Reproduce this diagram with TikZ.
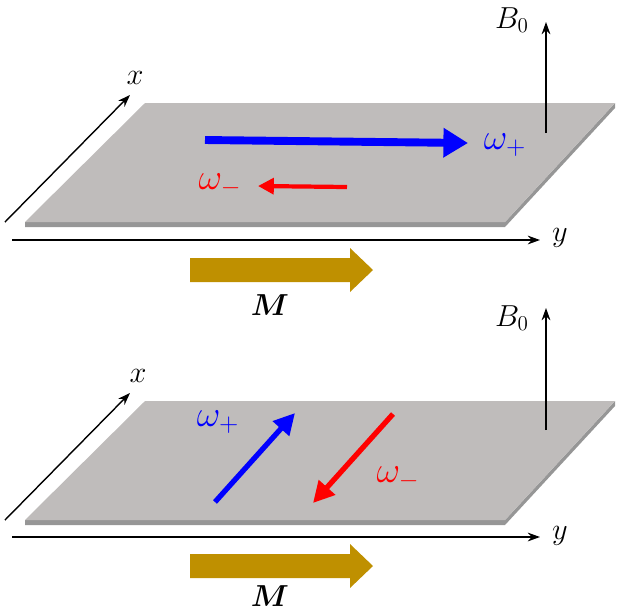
\documentclass[tikz,border=0pt]{standalone}
\usepackage{amsmath,amssymb,bm}
\usepackage{tikz}
\usetikzlibrary{arrows.meta,positioning}

\definecolor{slabtop}{RGB}{191,188,187}
\definecolor{slabedge}{RGB}{150,150,150}
\definecolor{magbrown}{RGB}{191,144,0}

\begin{document}
\begin{tikzpicture}[
    x=0.02cm, y=-0.02cm,
    axis/.style={thick,-{Stealth[length=7pt,width=5pt]}},
    fatarrow/.style={line width=4.5pt,-{Triangle[length=14pt,width=16pt]}},
    thinarrow/.style={line width=2.4pt,-{Triangle[length=9pt,width=9pt]}},
    midarrow/.style={line width=3pt,-{Triangle[length=12pt,width=12pt]}},
    lbl/.style={inner sep=1pt, font=\LARGE},
    wlbl/.style={inner sep=1pt, font=\huge}
]
\useasboundingbox (0,0) rectangle (619,610);

% top panel
\fill[slabedge] (25,222) -- (505,222) -- (615,103) -- (615,108) -- (505,227) -- (25,227) -- cycle;
\fill[slabtop] (25,222) -- (145,103) -- (615,103) -- (505,222) -- cycle;
\coordinate (xa0) at (5,222);
\coordinate (xa1) at (130,95);
\coordinate (ya0) at (12,240);
\coordinate (ya1) at (540,240);
\coordinate (ba0) at (546,133);
\coordinate (ba1) at (546,22);
\draw[axis] (xa0) -- (xa1);
\draw[axis] (ya0) -- (ya1);
\draw[axis] (ba0) -- (ba1);
\node[lbl] (xlbl) at (135,78) {$x$};
\node[lbl] (ylbl) at (560,238) {$y$};
\node[lbl] (blbl) at (512,20) {$B_0$};
\coordinate (wp0) at (205,140);
\coordinate (wp1) at (468,143);
\coordinate (wm0) at (347,187);
\coordinate (wm1) at (258,186);
\draw[fatarrow, blue] (wp0) -- (wp1);
\draw[thinarrow, red] (wm0) -- (wm1);
\node[wlbl, blue] (wplbl) at (505,145) {$\omega_+$};
\node[wlbl, red] (wmlbl) at (220,185) {$\omega_-$};
\fill[magbrown] (190,258) -- (350,258) -- (350,248) -- (373,270) -- (350,292) -- (350,282) -- (190,282) -- cycle;
\node[lbl] (mlbl) at (270,305) {$\bm{M}$};

% bottom panel
\fill[slabedge] (25,520) -- (505,520) -- (615,401) -- (615,406) -- (505,525) -- (25,525) -- cycle;
\fill[slabtop] (25,520) -- (145,401) -- (615,401) -- (505,520) -- cycle;
\coordinate (xb0) at (5,520);
\coordinate (xb1) at (130,393);
\coordinate (yb0) at (12,537);
\coordinate (yb1) at (540,537);
\coordinate (bb0) at (546,430);
\coordinate (bb1) at (546,308);
\draw[axis] (xb0) -- (xb1);
\draw[axis] (yb0) -- (yb1);
\draw[axis] (bb0) -- (bb1);
\node[lbl] (xlblb) at (138,376) {$x$};
\node[lbl] (ylblb) at (560,536) {$y$};
\node[lbl] (blblb) at (512,318) {$B_0$};
\coordinate (vp0) at (215,502);
\coordinate (vp1) at (295,413);
\coordinate (vm0) at (393,414);
\coordinate (vm1) at (313,503);
\draw[midarrow, blue] (vp0) -- (vp1);
\draw[midarrow, red] (vm0) -- (vm1);
\node[wlbl, blue] (vplbl) at (218,422) {$\omega_+$};
\node[wlbl, red] (vmlbl) at (398,478) {$\omega_-$};
\fill[magbrown] (190,554) -- (350,554) -- (350,544) -- (373,566) -- (350,588) -- (350,578) -- (190,578) -- cycle;
\node[lbl] (mlblb) at (270,596) {$\bm{M}$};
\end{tikzpicture}
\end{document}
